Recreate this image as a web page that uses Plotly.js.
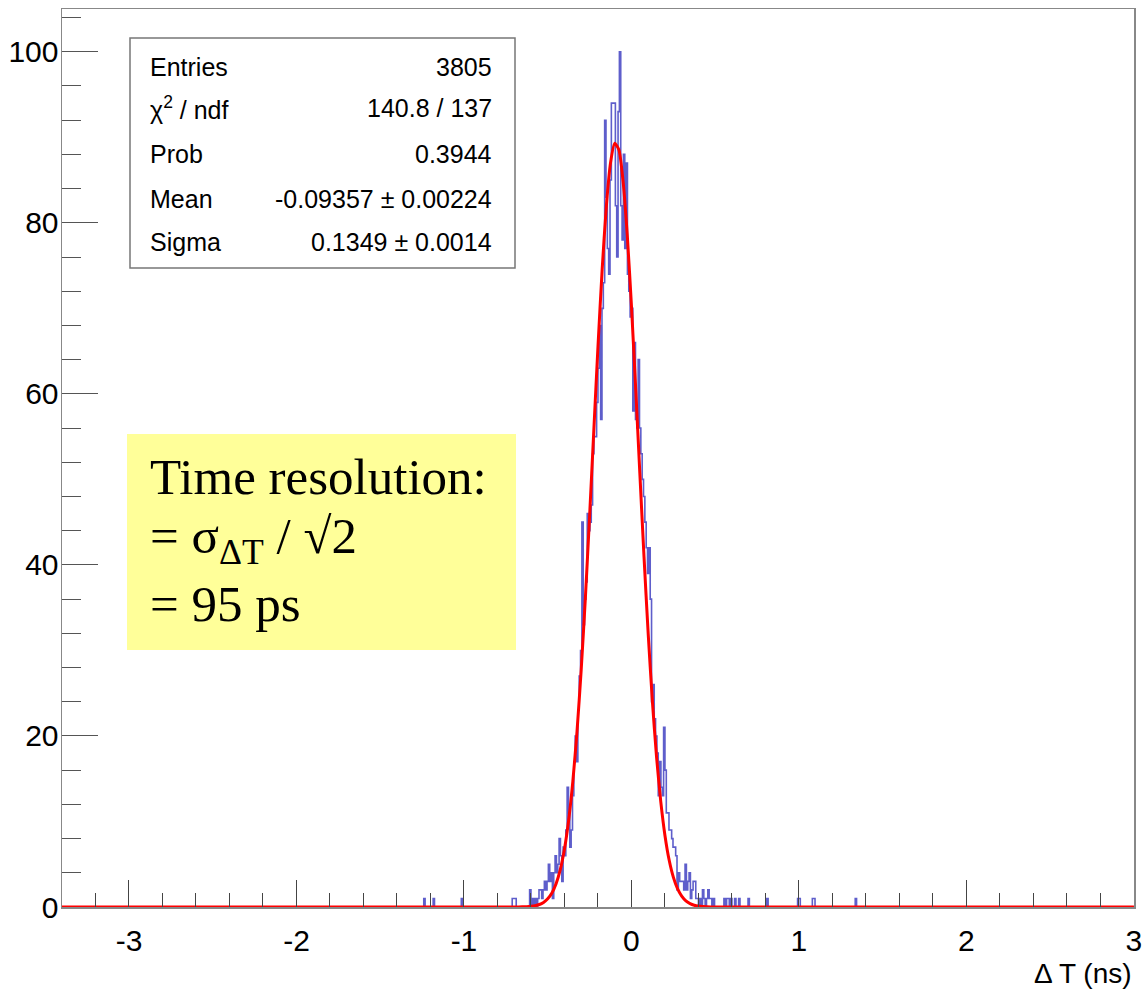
<!DOCTYPE html>
<html>
<head>
<meta charset="utf-8">
<script src="https://cdn.plot.ly/plotly-3.0.1.min.js"></script>
<style>
html,body{margin:0;padding:0;background:#fff;}
#chart{width:1142px;height:990px;}
</style>
</head>
<body>
<div id="chart"></div>
<script>
// ---------------- data ----------------
const xMin = -3.4, xMax = 3.0, binWidth = 0.008;
// low edge of the first bin of the central block
const coreStart = -0.608;
const coreCounts = [
  2,0,1,0,1,0,1,2,2,1,2,3,2,3,
  5,3,4,1,4,6,4,5,8,6,3,7,6,9,
  14,11,7,9,13,17,20,17,23,27,30,
  45,33,36,38,46,44,45,47,53,55,
  55,59,63,68,57,70,73,92,83,77,74,
  85,94,94,94,82,76,93,100,82,78,
  88,77,87,74,72,69,70,58,66,57,
  56,64,56,53,50,48,45,42,39,42,
  36,24,26,22,20,18,13,17,14,13,
  21,16,11,11,9,9,8,7,7,6,
  2,4,3,3,3,2,5,2,3,4,1,2,3,3,1,1,0,1,0,2,1,0,1,2,1,1,0,1
];
// isolated entries in the tails (approximate positions)
const tailX = [-1.240, -1.1835, -1.010, -0.708, -0.699, -0.690,
               0.556, 0.568, 0.580, 0.592, 0.616, 0.640, 0.696, 0.810,
               0.995, 1.004, 1.082, 1.094, 1.339];
const tailCounts = [1,1,1,1,1,1, 1,1,1,1,1,1,1,1, 1,1,1,1,1];

// fitted gaussian curve
const fitX = [-3.4, -0.675, -0.65, -0.625, -0.6, -0.575, -0.55, -0.525, -0.5, -0.475, -0.45, -0.425,
  -0.4, -0.375, -0.35, -0.325, -0.3, -0.275, -0.25, -0.225, -0.2, -0.175, -0.15, -0.125,
  -0.1, -0.075, -0.05, -0.025, 0, 0.025, 0.05, 0.075, 0.1, 0.125, 0.15, 0.175, 0.2,
  0.225, 0.25, 0.275, 0.3, 0.325, 0.35, 0.375, 0.4, 0.425, 0.45, 0.475, 3.0];
const fitY = [0, 0.008, 0.018, 0.038, 0.078, 0.153, 0.29, 0.54, 0.96, 1.64, 2.73, 4.37,
  6.78, 10.15, 14.69, 20.54, 27.74, 36.2, 45.66, 55.63, 65.5, 74.52, 81.92, 87.01,
  89.3, 88.55, 84.85, 78.55, 70.27, 60.74, 50.73, 40.94, 31.93, 24.05, 17.5, 12.32, 8.37,
  5.49, 3.49, 2.14, 1.27, 0.72, 0.4, 0.21, 0.11, 0.055, 0.026, 0.012, 0];

const xTickVals = [-3, -2, -1, 0, 1, 2, 3];
const statsLabels = ['Entries', 'χ<sup>2</sup> / ndf', 'Prob', 'Mean', 'Sigma'];
const statsValues = ['3805', '140.8 / 137', '0.3944', '-0.09357 ± 0.00224', '0.1349 ± 0.0014'];
const noteLines = ['Time resolution:', '= σ<sub>ΔT</sub> / √2', '= 95 ps'];

// ---------------- build histogram ----------------
const nBins = Math.round((xMax - xMin) / binWidth);
const counts = new Array(nBins).fill(0);
const i0 = Math.round((coreStart - xMin) / binWidth);
coreCounts.forEach((c, k) => { counts[i0 + k] = c; });
tailX.forEach((x, j) => { counts[Math.floor((x - xMin) / binWidth)] += tailCounts[j]; });
const hx = [], hy = [];
for (let i = 0; i < nBins; i++) { hx.push(xMin + i * binWidth); hy.push(counts[i]); }
hx.push(xMax); hy.push(counts[nBins - 1]);

// ---------------- geometry helpers (pixel -> paper) ----------------
const W = 1142, H = 990, mL = 62, mR = 8, mT = 9, mB = 83;
const pw = W - mL - mR, ph = H - mT - mB;
const px = p => (p - mL) / pw;
const py = p => (H - mB - p) / ph;

const sans = 'Liberation Sans, Arial, Helvetica, sans-serif';
const statsFont = {family: sans, size: 25, color: '#000'};
const rowY = [67, 108, 154, 199, 242];
const annotations = [];
statsLabels.forEach((t, i) => {
  annotations.push({xref:'paper', yref:'paper', x: px(148), y: py(rowY[i]), xanchor:'left', yanchor:'middle',
    text: t, showarrow:false, font: statsFont});
  annotations.push({xref:'paper', yref:'paper', x: px(494), y: py(rowY[i]), xanchor:'right', yanchor:'middle',
    text: statsValues[i], showarrow:false, font: statsFont});
});
const noteFont = {family: 'Liberation Serif, Times New Roman, serif', size: 51, color: '#000'};
const noteY = [477, 540, 604];
noteLines.forEach((t, i) => {
  annotations.push({xref:'paper', yref:'paper', x: px(148), y: py(noteY[i]), xanchor:'left', yanchor:'middle',
    text: t, showarrow:false, font: noteFont});
});
annotations.push({xref:'paper', yref:'paper', x: 1.0, y: py(973), xanchor:'right', yanchor:'middle',
  text: 'Δ T (ns)', showarrow:false, font: {family: sans, size: 28, color:'#000'}});

const traces = [
  {x: hx, y: hy, type:'scatter', mode:'lines', line:{shape:'hv', color:'rgba(40,40,185,0.75)', width:1.6},
   hoverinfo:'skip', showlegend:false},
  {x: fitX, y: fitY, type:'scatter', mode:'lines', line:{color:'#ff0000', width:3, shape:'spline', smoothing:0.6},
   hoverinfo:'skip', showlegend:false}
];

const layout = {
  width: W, height: H,
  margin: {l: mL, r: mR, t: mT, b: mB, pad: 0},
  paper_bgcolor: '#fff', plot_bgcolor: '#fff',
  showlegend: false,
  xaxis: {
    range: [xMin, xMax + 0.0005], tickmode:'array', tickvals: xTickVals, ticktext: xTickVals.map(String),
    ticks:'inside', ticklen: 27, tickcolor:'#444', tickwidth: 1,
    minor: {tick0: 0, dtick: 0.2, ticks:'inside', ticklen: 14, tickcolor:'#444', tickwidth: 1},
    showgrid:false, zeroline:false, showline:true, linecolor:'#888', linewidth:1.5, mirror:true,
    tickfont: {family: sans, size: 30, color:'#000'},
    ticklabelstandoff: 6, ticklabeloverflow: 'allow'
  },
  yaxis: {
    range: [0, 105], tick0: 0, dtick: 20,
    ticks:'inside', ticklen: 36, tickcolor:'#555', tickwidth: 1,
    minor: {tick0: 0, dtick: 4, ticks:'inside', ticklen: 19, tickcolor:'#555', tickwidth: 1},
    showgrid:false, zeroline:false, showline:true, linecolor:'#888', linewidth:1.5, mirror:true,
    tickfont: {family: sans, size: 30, color:'#000'},
    ticklabelstandoff: -4, ticklabeloverflow: 'allow'
  },
  shapes: [
    {type:'rect', xref:'paper', yref:'paper', x0: px(130), x1: px(515), y0: py(268), y1: py(38),
     line:{color:'#777', width:1.5}, fillcolor:'#fff', layer:'above'},
    {type:'rect', xref:'paper', yref:'paper', x0: px(127), x1: px(516), y0: py(650), y1: py(434),
     line:{width:0}, fillcolor:'#ffff99', layer:'above'}
  ],
  annotations: annotations
};

Plotly.newPlot('chart', traces, layout, {staticPlot:true});
</script>
</body>
</html>
